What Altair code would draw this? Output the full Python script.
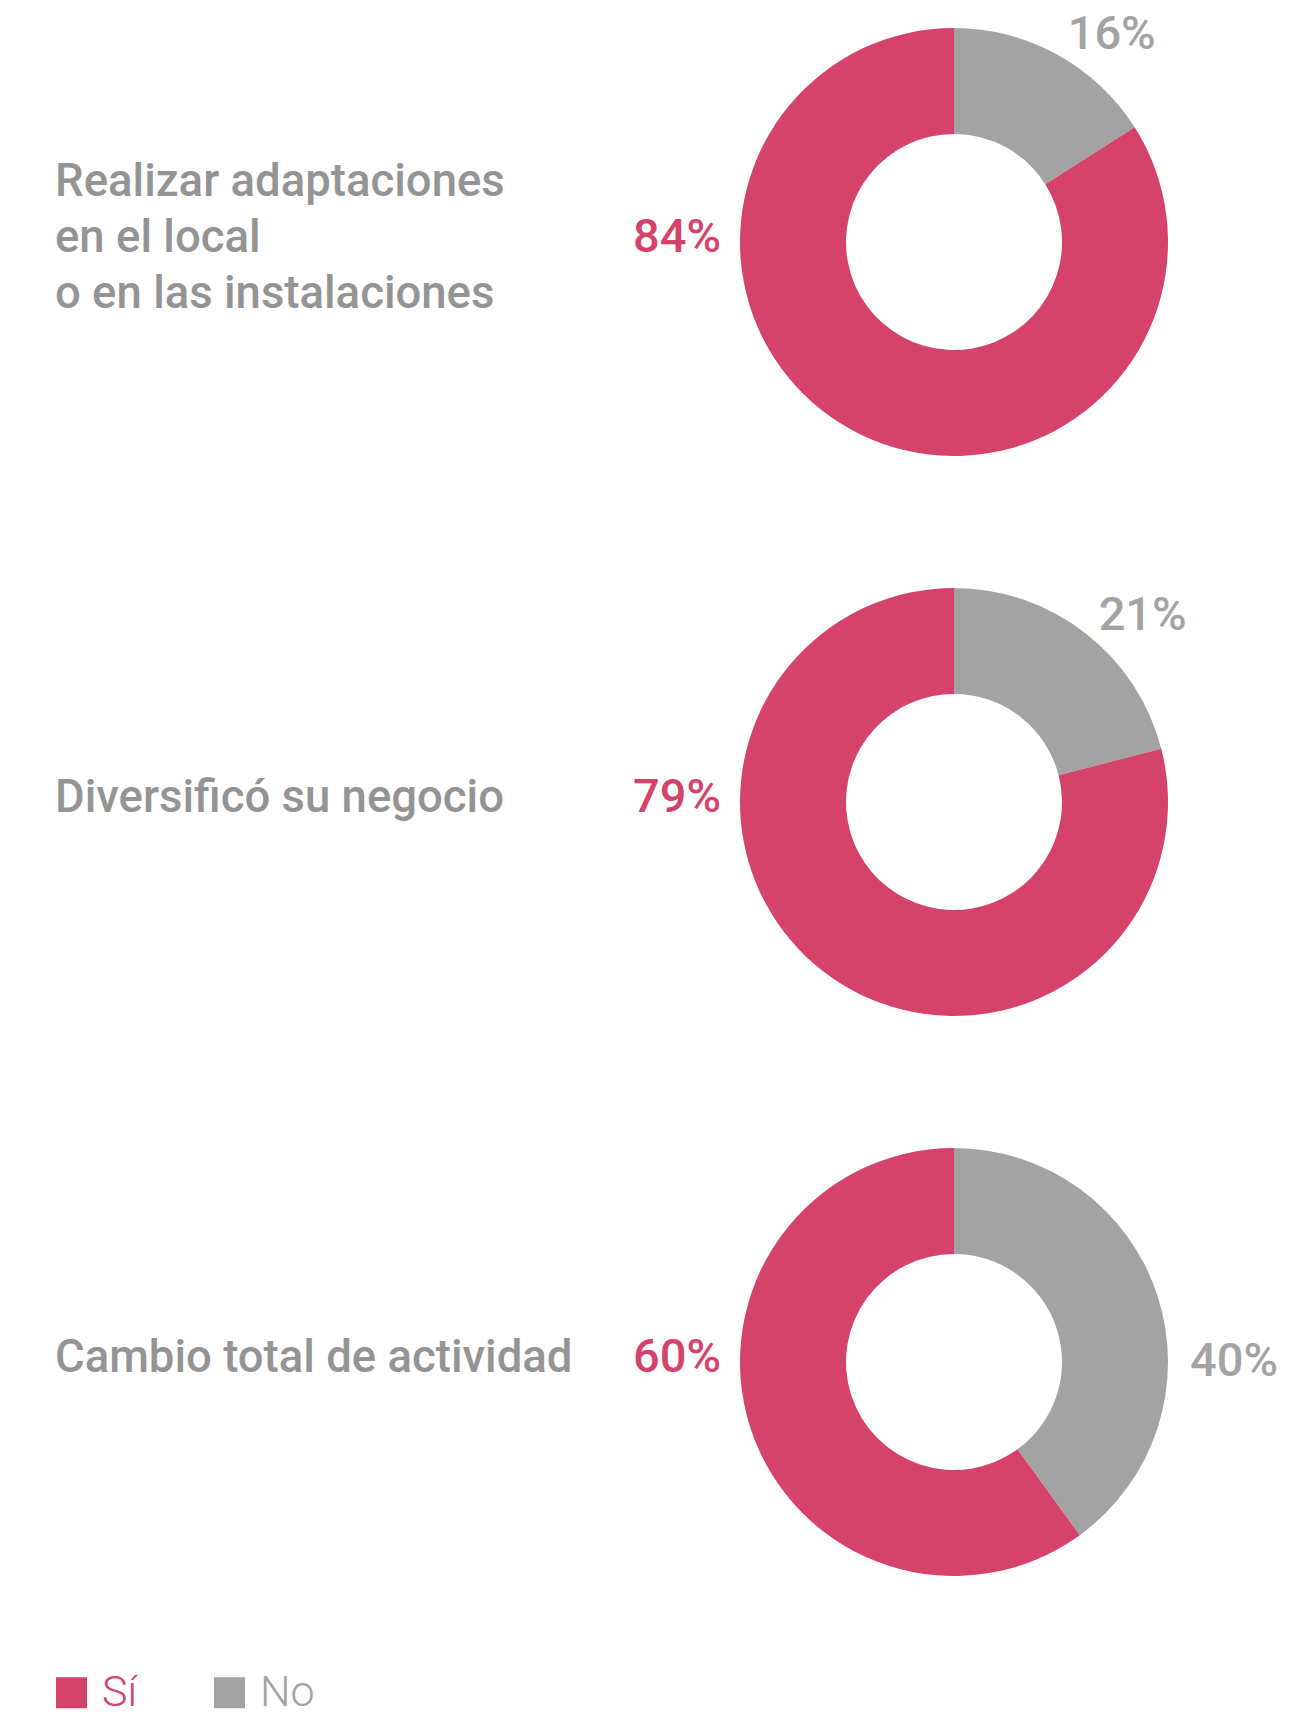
import altair as alt
import pandas as pd

# ---- data ----
questions = [
    "Realizar adaptaciones\nen el local\no en las instalaciones",
    "Diversificó su negocio",
    "Cambio total de actividad",
]
si_values = [84, 79, 60]
no_values = [16, 21, 40]
answers = ["Sí", "No"]

RED = "#d6436a"
GRAY = "#a3a3a3"
TEXT_GRAY = "#949494"
FONT = "Roboto"

rows = []
for i, (q, s, n) in enumerate(zip(questions, si_values, no_values)):
    rows.append({"i": i, "q": q, "answer": "No", "value": n, "ord": 0})
    rows.append({"i": i, "q": q, "answer": "Sí", "value": s, "ord": 1})
df = pd.DataFrame(rows)
qdf = pd.DataFrame({"i": list(range(len(questions))), "q": questions})

PANEL_W = 624
DONUT_W = 560
ROW_H = 468
R_OUT = 214
R_IN = 108
LINE_H = 56

color_scale = alt.Scale(domain=answers, range=[RED, GRAY])
theta_scale = alt.Scale(domain=[0, 100])


def row(i):
    n_lines = questions[i].count("\n") + 1
    label = (
        alt.Chart(qdf)
        .transform_filter(alt.datum.i == i)
        .mark_text(
            align="left", baseline="middle", lineBreak="\n", lineHeight=LINE_H,
            dy=-(n_lines - 1) * LINE_H / 2,
            font=FONT, fontSize=45.5, fontWeight=500, color=TEXT_GRAY,
        )
        .encode(x=alt.value(47), y=alt.value(ROW_H / 2 - 4), text="q:N")
        .properties(width=PANEL_W, height=ROW_H)
    )

    base = alt.Chart(df).transform_filter(alt.datum.i == i)
    arc = base.mark_arc(radius=R_OUT, radius2=R_IN).encode(
        theta=alt.Theta("value:Q", stack=True, scale=theta_scale),
        color=alt.Color(
            "answer:N", scale=color_scale, sort=answers,
            legend=alt.Legend(
                title=None, orient="none", direction="horizontal",
                legendX=42, legendY=1663, padding=0,
                symbolType="square", symbolSize=961, symbolStrokeWidth=0,
                symbolOpacity=1,
                labelFont=FONT, labelFontSize=43, labelFontWeight=300,
                labelColor={"expr": "datum.label == 'Sí' ? '%s' : '%s'" % (RED, GRAY)},
                labelOffset=9, columnPadding=70, labelLimit=300,
            ),
        ),
        order=alt.Order("ord:Q"),
    )
    no_text = (
        base.transform_filter(alt.datum.answer == "No")
        .transform_calculate(
            lab="datum.value >= 25 ? 25 : datum.value / 2",
            txt="datum.value + '%'",
        )
        .mark_text(
            radius=236, align="left", baseline="middle",
            font=FONT, fontSize=47, fontWeight=500, color=GRAY,
        )
        .encode(theta=alt.Theta("lab:Q", stack=False, scale=theta_scale), text="txt:N")
    )
    si_text = (
        base.transform_filter(alt.datum.answer == "Sí")
        .transform_calculate(
            lab="(100 - datum.value) <= 75 ? 75 : (200 - datum.value) / 2",
            txt="datum.value + '%'",
        )
        .mark_text(
            radius=233, align="right", baseline="middle", dy=-4,
            font=FONT, fontSize=47, fontWeight=500, color=RED,
        )
        .encode(theta=alt.Theta("lab:Q", stack=False, scale=theta_scale), text="txt:N")
    )
    donut = alt.layer(arc, no_text, si_text).properties(width=DONUT_W, height=ROW_H)
    return alt.hconcat(label, donut, spacing=0)


chart = (
    alt.vconcat(*[row(i) for i in range(len(questions))], spacing=92)
    .properties(padding=0)
    .configure_view(strokeWidth=0)
)

chart.save("out.html", embed_options={"renderer": "svg", "actions": False})
